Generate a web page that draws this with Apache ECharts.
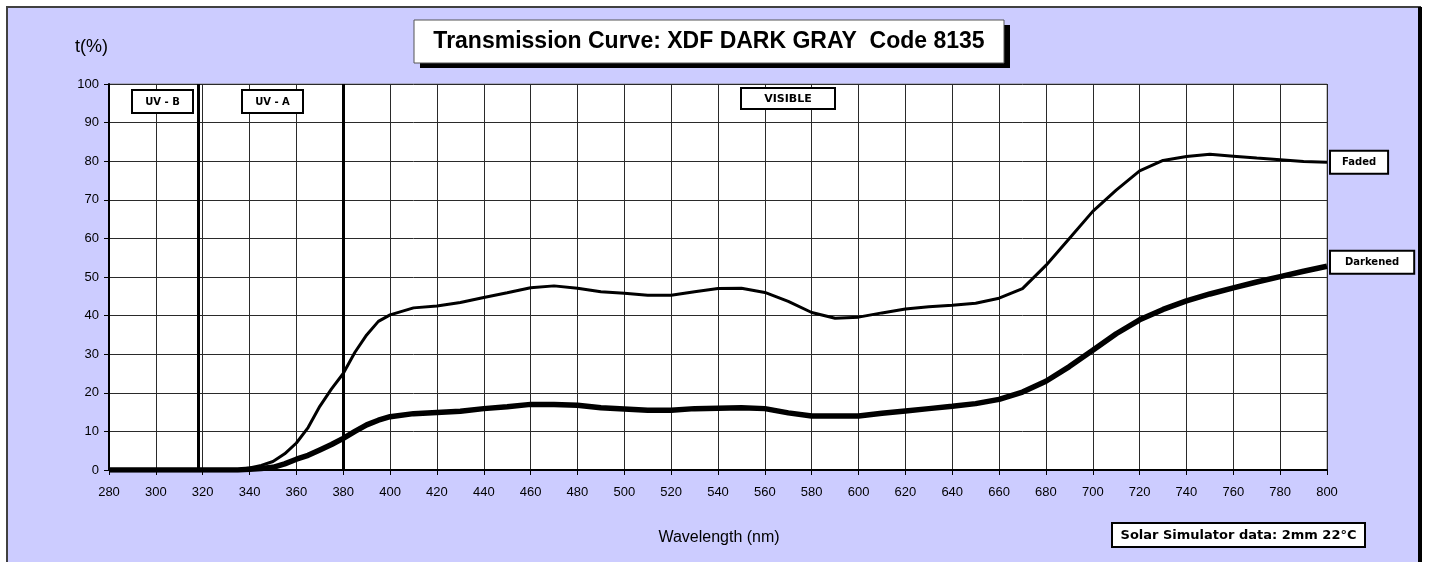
<!DOCTYPE html>
<html>
<head>
<meta charset="utf-8">
<script src="https://cdn.jsdelivr.net/npm/echarts@6/dist/echarts.min.js"></script>
<style>
  html, body { margin: 0; padding: 0; background: #fff; }
  #chart { width: 1431px; height: 562px; }
</style>
</head>
<body>
<div id="chart"></div>
<script>
// wavelength (nm) and transmission (%)
const wavelength = [280, 290, 300, 310, 320, 330, 335, 340, 345, 350, 355, 360, 365, 370, 375, 380, 385, 390, 395, 400,
  410, 420, 430, 440, 450, 460, 470, 480, 490, 500, 510, 520, 530, 540, 550, 560, 570, 580, 590, 600,
  610, 620, 630, 640, 650, 660, 670, 680, 690, 700, 710, 720, 730, 740, 750, 760, 770, 780, 790, 800]
const faded = [0, 0, 0, 0, 0, 0, 0.1, 0.5, 1.2, 2.2, 4.2, 7, 11, 16.5, 21, 25, 30.5, 35, 38.5, 40.2,
  42, 42.5, 43.4, 44.7, 45.9, 47.2, 47.7, 47.1, 46.2, 45.8, 45.3, 45.3, 46.2, 47, 47.1, 46, 43.7, 40.8, 39.3, 39.6,
  40.7, 41.7, 42.3, 42.7, 43.2, 44.5, 47, 53, 60, 67, 72.5, 77.5, 80.2, 81.2, 81.8, 81.3, 80.8, 80.4, 79.9, 79.7]
const darkened = [0, 0, 0, 0, 0, 0, 0, 0.2, 0.4, 0.7, 1.6, 2.8, 3.8, 5.2, 6.6, 8.2, 10, 11.7, 12.9, 13.8,
  14.6, 14.9, 15.2, 15.9, 16.4, 17, 17, 16.8, 16.1, 15.8, 15.5, 15.5, 15.9, 16, 16.1, 15.9, 14.8, 14, 14, 14,
  14.7, 15.3, 15.9, 16.5, 17.2, 18.3, 20.2, 23, 26.8, 31, 35.3, 38.9, 41.6, 43.8, 45.6, 47.2, 48.7, 50.1, 51.5, 52.8]
// UV-B / UV-A and UV-A / visible boundaries
const bands = [318, 380]

const FONT = '"Liberation Sans", Arial, sans-serif'
const WIDE = '"DejaVu Sans", Verdana, sans-serif'

const myChart = echarts.init(document.getElementById('chart'))

function pairs(ys) {
  return wavelength.map((x, i) => [x, ys[i]])
}

function boxLabel(x, y, w, h, text, size) {
  return [{
    type: 'rect',
    shape: { x: x, y: y, width: w, height: h },
    style: { fill: '#fff', stroke: '#000', lineWidth: 2 },
    z: 20
  }, {
    type: 'text',
    x: x + w / 2,
    y: y + h / 2 + 1,
    style: {
      text: text,
      font: 'bold ' + size + 'px ' + WIDE,
      fill: '#000',
      align: 'center',
      verticalAlign: 'middle'
    },
    z: 21
  }]
}

const endLabel = (dy, padX) => ({
  show: true,
  formatter: '{a}',
  color: '#000',
  fontFamily: WIDE,
  fontWeight: 'bold',
  fontSize: 10,
  backgroundColor: '#fff',
  borderColor: '#000',
  borderWidth: 2,
  padding: [6, padX, 5, padX],
  distance: 4,
  offset: [0, dy]
})

const option = {
  animation: false,
  backgroundColor: '#fff',
  grid: {
    left: 109,
    right: 104,
    top: 84,
    bottom: 92,
    show: true,
    backgroundColor: '#fff',
    borderColor: '#888',
    borderWidth: 1
  },
  xAxis: {
    type: 'value',
    min: 280,
    max: 800,
    interval: 20,
    axisLine: { show: true, lineStyle: { color: '#000', width: 2 } },
    axisTick: { show: true, length: 5, lineStyle: { color: '#000' } },
    axisLabel: { color: '#000', fontSize: 13, fontFamily: FONT, margin: 16 },
    splitLine: { show: true, lineStyle: { color: '#2a2a2a', width: 1 } }
  },
  yAxis: {
    type: 'value',
    min: 0,
    max: 100,
    interval: 10,
    axisLine: { show: true, lineStyle: { color: '#000', width: 2 } },
    axisTick: { show: true, length: 5, lineStyle: { color: '#000' } },
    axisLabel: { color: '#000', fontSize: 13, fontFamily: FONT, margin: 10 },
    splitLine: { show: true, lineStyle: { color: '#2a2a2a', width: 1 } }
  },
  series: [{
    name: 'Faded',
    type: 'line',
    data: pairs(faded),
    showSymbol: false,
    lineStyle: { color: '#000', width: 3 },
    endLabel: endLabel(0, 11),
    markLine: {
      silent: true,
      symbol: 'none',
      label: { show: false },
      lineStyle: { color: '#000', width: 3, type: 'solid' },
      data: bands.map(b => ({ xAxis: b }))
    },
    z: 5
  }, {
    name: 'Darkened',
    type: 'line',
    data: pairs(darkened),
    showSymbol: false,
    lineStyle: { color: '#000', width: 5.5 },
    endLabel: endLabel(-4, 14),
    z: 5
  }],
  graphic: {
    elements: [{
      type: 'rect',
      shape: { x: 7, y: 7, width: 1413, height: 570 },
      style: { fill: '#ccccff', stroke: '#404040', lineWidth: 2 },
      z: -10
    }, {
      type: 'rect',
      shape: { x: 1418, y: 7, width: 4, height: 570 },
      style: { fill: '#000' },
      z: 30
    }, {
      type: 'rect',
      shape: { x: 420, y: 25, width: 590, height: 43 },
      style: { fill: '#000' },
      z: 20
    }, {
      type: 'rect',
      shape: { x: 414, y: 20, width: 590, height: 43 },
      style: { fill: '#fff', stroke: '#555', lineWidth: 1 },
      z: 21
    }, {
      type: 'text',
      x: 709,
      y: 42,
      style: {
        text: 'Transmission Curve: XDF DARK GRAY  Code 8135',
        font: 'bold 23px ' + FONT,
        fill: '#000',
        align: 'center',
        verticalAlign: 'middle'
      },
      z: 22
    }, {
      type: 'text',
      x: 75,
      y: 47,
      style: {
        text: 't(%)',
        font: '18px ' + FONT,
        fill: '#000',
        align: 'left',
        verticalAlign: 'middle'
      },
      z: 20
    }, {
      type: 'text',
      x: 719,
      y: 538,
      style: {
        text: 'Wavelength (nm)',
        font: '16px ' + FONT,
        fill: '#000',
        align: 'center',
        verticalAlign: 'middle'
      },
      z: 20
    },
    ...boxLabel(132, 90, 61, 23, 'UV - B', 10),
    ...boxLabel(242, 90, 61, 23, 'UV - A', 10),
    ...boxLabel(741, 88, 94, 21, 'VISIBLE', 11),
    ...boxLabel(1112, 523, 253, 24, 'Solar Simulator data: 2mm 22°C', 13)
    ]
  }
}

option && myChart.setOption(option)
</script>
</body>
</html>
